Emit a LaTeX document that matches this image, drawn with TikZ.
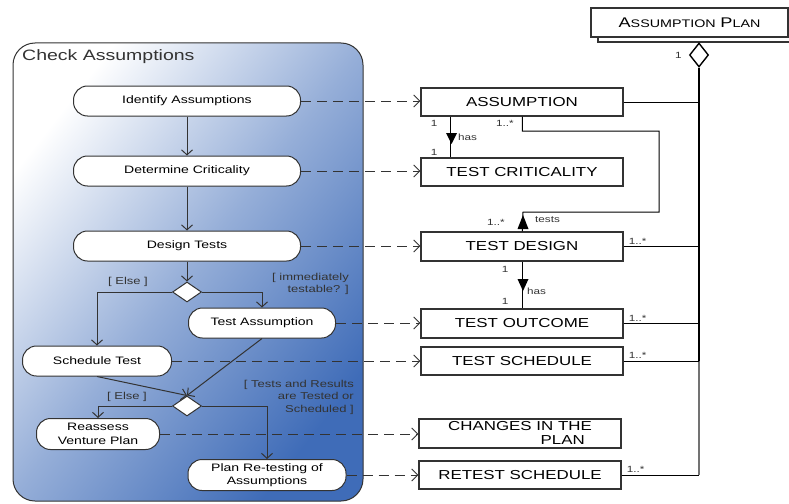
\documentclass[tikz,border=0pt]{standalone}
\usepackage{fontspec}
\setmainfont{Liberation Sans}[FakeStretch=1.3]
\usetikzlibrary{arrows.meta, shapes.geometric, calc, positioning}
\definecolor{flowblue}{HTML}{3F6CB8}
\definecolor{inkgray}{HTML}{333333}
\tikzset{
	activity/.style={draw=inkgray, fill=white, rounded corners=14pt, line width=1pt, inner sep=0pt, align=center, font=\fontsize{10.8}{13.5}\selectfont}
}
\tikzset{
	classbox/.style={draw=inkgray, fill=white, line width=1.3pt, inner sep=0pt, minimum width=202pt, minimum height=28pt, align=center, font=\fontsize{13}{13.5}\selectfont}
}
\tikzset{
	choice/.style={diamond, draw=inkgray, fill=white, line width=1pt, inner sep=0pt, minimum width=29pt, minimum height=20pt},
	flow/.style={-{Straight Barb[length=5pt,width=11pt]}, line width=1pt, draw=inkgray},
	trace/.style={dash pattern=on 10pt off 6pt, -{Straight Barb[length=6pt,width=12pt]}, line width=0.9pt, draw=inkgray},
	guardtext/.style={font=\fontsize{10}{12.5}\selectfont, text=inkgray, align=right, inner sep=0pt},
	smalltext/.style={font=\fontsize{9}{10}\selectfont, text=inkgray, inner sep=0pt}
}

\begin{document}
\begin{tikzpicture}[x=1pt, y=-1pt]
      \useasboundingbox (0,0) rectangle (789,503);

      % activity frame, shaded from white to blue (unflipped y here)
      \begin{scope}[y=1pt]
        \draw[inkgray, line width=1pt, rounded corners=22pt, left color=white, right color=flowblue, middle color=flowblue!55!white, shading angle=52] (13,-43) rectangle (363,-501);
      \end{scope}
      \node[anchor=west, inner sep=0pt, text=inkgray, font=\fontsize{15}{16}\selectfont] (title) at (22,57) {Check Assumptions};

      % activities
      \node[activity, minimum width=227pt, minimum height=30pt] (ident) at (187,101) {Identify Assumptions};
      \node[activity, minimum width=227pt, minimum height=30pt] (crit) at (187,171) {Determine Criticality};
      \node[activity, minimum width=227pt, minimum height=30pt] (design) at (187,246) {Design Tests};
      \node[choice] (dec1) at (187,292) {};
      \node[activity, minimum width=147pt, minimum height=30pt] (testa) at (262,323) {Test Assumption};
      \node[activity, minimum width=149pt, minimum height=30pt] (sched) at (97,361) {Schedule Test};
      \node[choice] (dec2) at (187,406) {};
      \node[activity, minimum width=123pt, minimum height=31pt] (reass) at (98,434) {Reassess\\Venture Plan};
      \node[activity, minimum width=158pt, minimum height=31pt] (replan) at (267,475) {Plan Re-testing of\\Assumptions};

      % control flow
      \draw[flow] (ident) -- (crit);
      \draw[flow] (crit) -- (design);
      \draw[flow] (design) -- (dec1);
      \draw[flow] (dec1.west) -| (sched.north);
      \draw[flow] (dec1.east) -| (testa.north);
      \draw[flow] (testa.south) -- (dec2.north);
      \draw[flow] (sched.south) -- (dec2.north);
      \draw[flow] (dec2.west) -| (reass.north);
      \draw[flow] (dec2.east) -| (replan.north);

      % guards
      \node[guardtext] (else1) at (128,282) {[ Else ]};
      \node[guardtext, anchor=east] (testable) at (349,284) {[ immediately\\testable? ]};
      \node[guardtext] (else2) at (127,397) {[ Else ]};
      \node[guardtext, anchor=east] (tested) at (354,397) {[ Tests and Results\\are Tested or\\Scheduled ]};

      % classes
      \node[classbox] (cA) at (522,102) {ASSUMPTION};
      \node[classbox] (cC) at (522,172) {TEST CRITICALITY};
      \node[classbox, minimum height=29pt] (cD) at (522,246.5) {TEST DESIGN};
      \node[classbox, minimum height=29pt] (cO) at (522,323.5) {TEST OUTCOME};
      \node[classbox] (cS) at (522,361) {TEST SCHEDULE};
      \node[classbox, minimum height=29pt, font=\fontsize{13}{14}\selectfont] (cV) at (520,433.5) {CHANGES IN THE\\\phantom{VENTURE} PLAN};
      \node[classbox] (cR) at (520,475) {RETEST SCHEDULE};

      % assumption plan with its shadow
      \draw[inkgray, line width=1.3pt, fill=white] (598,14) rectangle (792,42);
      \node[classbox, minimum width=197pt, minimum height=29pt] (plan) at (689.5,22.5)
        {{\fontsize{14}{14}\selectfont A}{\fontsize{11}{14}\selectfont SSUMPTION} {\fontsize{14}{14}\selectfont P}{\fontsize{11}{14}\selectfont LAN}};
      \node[diamond, draw=black, fill=white, line width=1.4pt, inner sep=0pt, minimum width=19pt, minimum height=24pt] (aggr) at (699,55) {};
      \node[smalltext, left=7pt of aggr] (mplan) {1};

      % trace from activities to classes
      \foreach \a/\c in {ident/cA, crit/cC, design/cD, testa/cO, sched/cS, reass/cV, replan/cR} {
        \draw[trace] (\a.east) -- (\a.east -| \c.west);
      }

      % aggregation into the plan
      \draw[line width=1.4pt] (aggr.south) -- (aggr.south |- cS.east);
      \draw[black!55, line width=1.4pt] (aggr.south |- cS.east) -- (aggr.south |- cR.east);
      \foreach \c in {cA, cD, cO, cS, cR} {
        \draw[line width=0.9pt] (\c.east) -- (\c.east -| aggr.south);
      }
      \foreach \c in {cD, cO, cS, cR} {
        \node[smalltext, anchor=south west] (m\c) at ($(\c.east)+(5,-2)$) {1..*};
      }

      % assumption has test criticality
      \draw[line width=1.3pt] ($(cA.south west)+(30,0)$) -- ($(cC.north west)+(30,0)$);
      \fill (446,133) -- (457,133) -- (451.5,144) -- cycle;
      \node[smalltext, anchor=west] (has1) at (458,137) {has};
      \node[smalltext] (m1a) at (434,123) {1};
      \node[smalltext] (m1c) at (434,152) {1};

      % test design tests assumption
      \draw[line width=1pt] ($(cA.south west)+(102,0)$) |- (659,131) |- (523,212) -- ($(cD.north west)+(102,0)$);
      \fill (523,215) -- (528.5,229) -- (517.5,229) -- cycle;
      \node[smalltext] (m2a) at (505,123) {1..*};
      \node[smalltext] (m2d) at (496,222) {1..*};
      \node[smalltext, anchor=west] (tests) at (535,220) {tests};

      % test design has test outcome
      \draw[line width=1.3pt] ($(cD.south west)+(102,0)$) -- ($(cO.north west)+(102,0)$);
      \fill (517.5,279) -- (528.5,279) -- (523,291) -- cycle;
      \node[smalltext, anchor=west] (has2) at (527,291) {has};
      \node[smalltext] (m3d) at (505,269) {1};
      \node[smalltext] (m3o) at (505,301) {1};
    \end{tikzpicture}
\end{document}
